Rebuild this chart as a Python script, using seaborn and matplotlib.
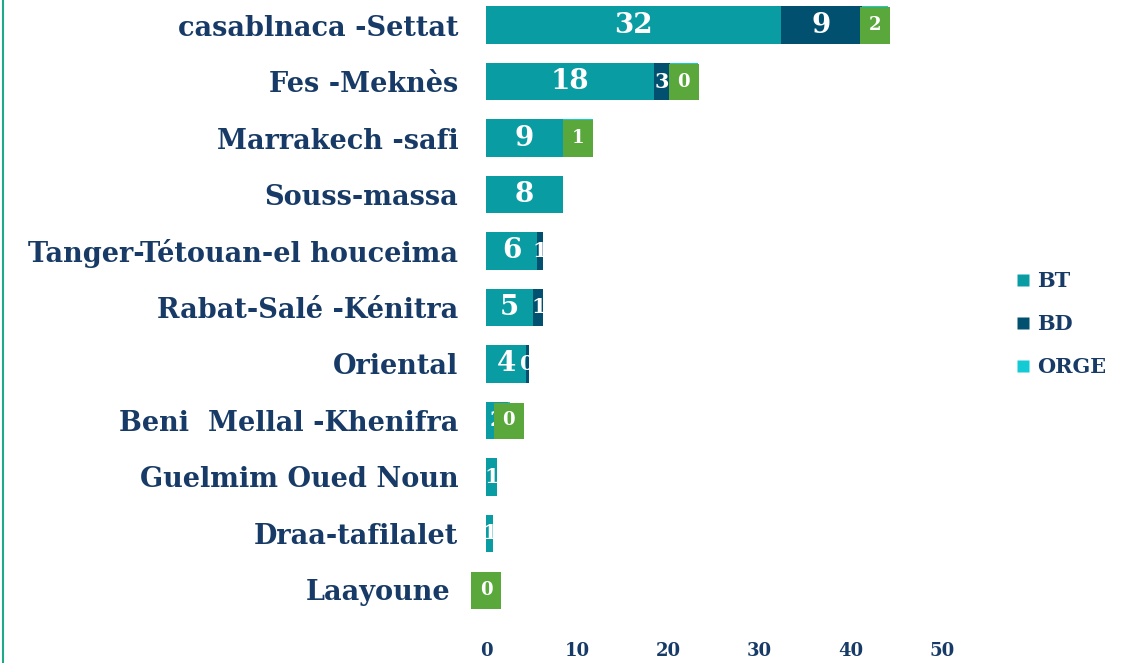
import matplotlib
matplotlib.use("Agg")
import matplotlib.pyplot as plt
import matplotlib.transforms as mtransforms
import seaborn as sns
import pandas as pd
import numpy as np
from matplotlib.patches import Rectangle
from matplotlib.lines import Line2D

sns.set_theme(style="white")
plt.rcParams['font.family'] = ['DejaVu Serif']

regions = ["casablnaca -Settat", "Fes -Meknès", "Marrakech -safi", "Souss-massa",
           "Tanger-Tétouan-el houceima", "Rabat-Salé -Kénitra", "Oriental",
           "Beni  Mellal -Khenifra", "Guelmim Oued Noun", "Draa-tafilalet", "Laayoune"]
# bar lengths
bt = [32.3, 18.4, 8.4, 8.4, 5.6, 5.2, 4.4, 2.4, 1.2, 0.8, 0.0]
bd = [8.9, 1.8, 0.0, 0.0, 0.7, 1.1, 0.35, 0.0, 0.0, 0.0, 0.0]
orge = [2.9, 3.0, 3.3, 0.0, 0.0, 0.0, 0.0, 0.2, 0.0, 0.0, 0.0]
# data labels as printed on the chart
bt_labels = ["32", "18", "9", "8", "6", "5", "4", "2", "1", "1", ""]
bd_labels = ["9", "3", "", "", "1", "1", "0", "", "", "", ""]
orge_labels = ["2", "0", "1", "", "", "", "", "0", "", "", "0"]

C_BT = "#0A9CA3"
C_BD = "#02506F"
C_ORGE = "#14CAD5"
C_GREEN = "#5AA83B"
C_TEXT = "#173B66"

df = pd.DataFrame({"region": regions, "BT": bt, "BD": bd, "ORGE": orge})
df["s3"] = df["BT"] + df["BD"] + df["ORGE"]
df["s2"] = df["BT"] + df["BD"]

fig = plt.figure(figsize=(11.36, 6.63), dpi=100)
ax = fig.add_axes([0.4278, 0.0675, 0.4014, 0.9374])

w = 0.67
for col, c in (("s3", C_ORGE), ("s2", C_BD), ("BT", C_BT)):
    sns.barplot(data=df, y="region", x=col, color=c, orient="h", width=w,
                saturation=1, ax=ax, order=regions, linewidth=0, edgecolor="none")

ax.set_xlim(0, 50)
ax.set_ylim(10.5, -0.5)
ax.set_xticks([0, 10, 20, 30, 40, 50])
ax.set_xlabel("")
ax.set_ylabel("")
for s in ax.spines.values():
    s.set_visible(False)
ax.tick_params(axis="x", length=0, pad=17, labelsize=13, labelcolor=C_TEXT)
ax.tick_params(axis="y", length=0, pad=20, labelsize=19.5, labelcolor=C_TEXT)
for lab in ax.get_xticklabels() + ax.get_yticklabels():
    lab.set_fontweight("bold")
# the last category label sits a little further left (green label box beside it)
last = ax.get_yticklabels()[-1]
last.set_transform(last.get_transform() +
                   mtransforms.ScaledTranslation(-8 / 100, 0, fig.dpi_scale_trans))

big = 20
for i in range(len(regions)):
    if bt_labels[i]:
        ax.text(bt[i] / 2, i, bt_labels[i], ha="center", va="center",
                color="white", fontsize=big if bt[i] > 3 else 15,
                fontweight="bold", clip_on=False)
    if bd_labels[i]:
        ax.text(bt[i] + bd[i] / 2, i, bd_labels[i], ha="center", va="center",
                color="white", fontsize=big if bd[i] > 3 else 15,
                fontweight="bold")
    if orge_labels[i]:
        cx = bt[i] + bd[i] + orge[i] / 2
        bw = 3.3
        bh = 0.64
        ax.add_patch(Rectangle((cx - bw / 2, i - bh / 2 + 0.01), bw, bh,
                               facecolor=C_GREEN, edgecolor="none", zorder=5,
                               clip_on=False))
        ax.text(cx, i, orge_labels[i], ha="center", va="center", color="white",
                fontsize=13, fontweight="bold", zorder=6)

handles = [Line2D([0], [0], marker="s", linestyle="none", markersize=9,
                  markerfacecolor=c, markeredgecolor="none") for c in (C_BT, C_BD, C_ORGE)]
leg = fig.legend(handles, ["BT", "BD", "ORGE"], loc="center left",
                 bbox_to_anchor=(0.878, 0.511), frameon=False,
                 prop={"weight": "bold", "size": 15}, labelcolor=C_TEXT,
                 handletextpad=0.3, handlelength=0.7, labelspacing=1.1)

fig.add_artist(Line2D([0.0025, 0.0025], [0, 1], color="#1FA88A", linewidth=1.5,
                      transform=fig.transFigure))

fig.savefig("out.png", dpi=100, facecolor="white")
